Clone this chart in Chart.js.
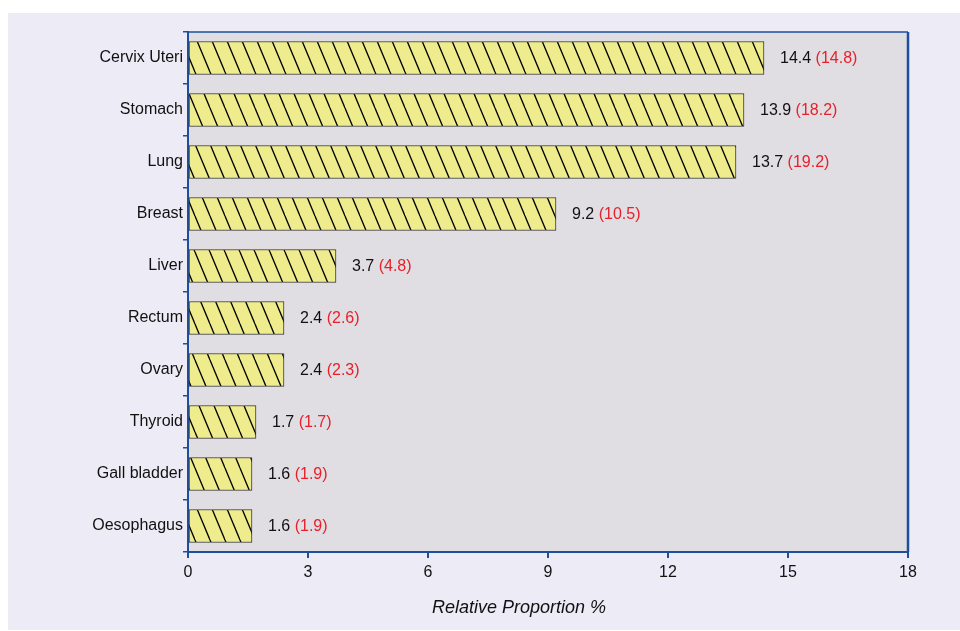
<!DOCTYPE html>
<html>
<head>
<meta charset="utf-8">
<script src="https://cdn.jsdelivr.net/npm/chart.js@4/dist/chart.umd.min.js"></script>
<style>
html,body{margin:0;padding:0;background:#fff;}
#wrap{width:960px;height:631px;}
</style>
</head>
<body>
<div id="wrap"><canvas id="c" width="960" height="631"></canvas></div>
<script>
const categories = ["Cervix Uteri","Stomach","Lung","Breast","Liver","Rectum","Ovary","Thyroid","Gall bladder","Oesophagus"];
const primaryValues = [14.4,13.9,13.7,9.2,3.7,2.4,2.4,1.7,1.6,1.6];
const bracketValues = [14.8,18.2,19.2,10.5,4.8,2.6,2.3,1.7,1.9,1.9];
const xTicks = [0,3,6,9,12,15,18];
const xTitle = 'Relative Proportion %';

const BLUE = '#1d4f9c';
const FONT = '"Liberation Sans", Arial, Helvetica, sans-serif';

function makeHatch(){
  const c = document.createElement('canvas');
  c.width = 15; c.height = 36;
  const g = c.getContext('2d');
  g.fillStyle = '#eeec8c';
  g.fillRect(0,0,15,36);
  g.strokeStyle = '#000000';
  g.lineWidth = 1.3;
  [-15,0,15].forEach(o=>{
    g.beginPath(); g.moveTo(o,0); g.lineTo(o+15,36); g.stroke();
  });
  return document.getElementById('c').getContext('2d').createPattern(c,'repeat');
}

const bgPlugin = {
  id:'bg',
  beforeDraw(chart){
    const ctx = chart.ctx, a = chart.chartArea;
    ctx.save();
    ctx.fillStyle = '#ffffff';
    ctx.fillRect(0,0,chart.width,chart.height);
    ctx.fillStyle = '#ecebf6';
    ctx.fillRect(8,13,chart.width-8,617);
    ctx.fillStyle = '#e0dee3';
    ctx.fillRect(a.left,a.top,a.right-a.left,a.bottom-a.top);
    ctx.restore();
  },
  afterDraw(chart){
    const ctx = chart.ctx, a = chart.chartArea;
    ctx.save();
    ctx.strokeStyle = BLUE;
    ctx.lineWidth = 1.5;
    ctx.beginPath(); ctx.moveTo(a.left,a.top); ctx.lineTo(a.right,a.top); ctx.stroke();
    ctx.lineWidth = 2.5;
    ctx.beginPath(); ctx.moveTo(a.right,a.top); ctx.lineTo(a.right,a.bottom); ctx.stroke();
    ctx.font = 'italic 18px ' + FONT;
    ctx.fillStyle = '#111111';
    ctx.textAlign = 'center';
    ctx.textBaseline = 'middle';
    ctx.fillText(xTitle, 519, 608);
    ctx.restore();
  }
};

const labelPlugin = {
  id:'vals',
  afterDatasetsDraw(chart){
    const ctx = chart.ctx;
    const meta = chart.getDatasetMeta(0);
    ctx.save();
    ctx.font = '16px ' + FONT;
    ctx.textBaseline = 'middle';
    ctx.textAlign = 'left';
    meta.data.forEach((bar,i)=>{
      const x = bar.x + 16, y = bar.y + 1;
      const t1 = primaryValues[i].toFixed(1);
      ctx.fillStyle = '#111111';
      ctx.fillText(t1, x, y);
      const w = ctx.measureText(t1 + ' ').width;
      ctx.fillStyle = '#e8202a';
      ctx.fillText('(' + bracketValues[i].toFixed(1) + ')', x + w, y);
    });
    ctx.restore();
  }
};

new Chart(document.getElementById('c'), {
  type:'bar',
  data:{
    labels:categories,
    datasets:[{
      data:primaryValues,
      backgroundColor:makeHatch(),
      borderColor:'#333333',
      borderWidth:1,
      borderSkipped:false,
      barThickness:33
    }]
  },
  options:{
    indexAxis:'y',
    responsive:false,
    animation:false,
    layout:{padding:{left:0,right:52,top:32,bottom:0}},
    plugins:{legend:{display:false},tooltip:{enabled:false}},
    scales:{
      x:{
        min:0,max:18,
        afterBuildTicks(s){ s.ticks = xTicks.map(v=>({value:v})); },
        afterFit(s){ s.height = 79; },
        ticks:{color:'#111',font:{family:FONT,size:16},padding:5},
        grid:{drawOnChartArea:false,color:BLUE,lineWidth:2,tickLength:6},
        border:{color:BLUE,width:2},
        title:{display:false}
      },
      y:{
        afterFit(s){ s.width = 188; },
        ticks:{color:'#111',font:{family:FONT,size:16},padding:0},
        grid:{drawOnChartArea:false,color:BLUE,lineWidth:1.5,tickLength:5,offset:true},
        border:{color:BLUE,width:2}
      }
    }
  },
  plugins:[bgPlugin,labelPlugin]
});
</script>
</body>
</html>
